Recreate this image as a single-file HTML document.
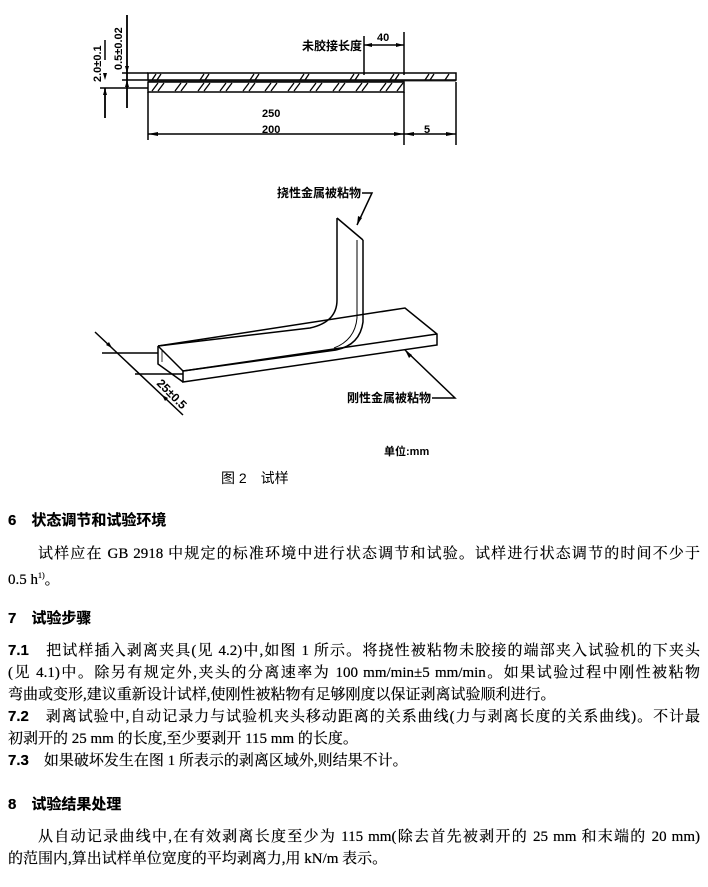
<!DOCTYPE html>
<html><head><meta charset="utf-8"><style>
html,body{margin:0;padding:0;background:#fff;}
body{width:708px;height:887px;position:relative;overflow:hidden;font-family:"Liberation Serif","Noto Serif CJK SC",serif;color:#000;}
.l{position:absolute;left:8px;font-size:15px;line-height:20px;white-space:nowrap;text-shadow:0 0 0.4px #000;}
.j{width:692px;text-align:justify;text-align-last:justify;white-space:normal;}
.h{font-family:"Liberation Sans","Noto Sans CJK SC",sans-serif;font-weight:bold;font-size:15px;}
svg{position:absolute;left:0;top:0;}
svg text{font-family:"Liberation Sans","Noto Sans CJK SC",sans-serif;fill:#000;}
</style></head><body>
<svg width="708" height="500" viewBox="0 0 708 500">
<g stroke="#000" stroke-width="1.5" fill="none">
<rect x="148" y="73" width="308" height="7"/>
<rect x="148" y="82" width="256" height="10"/>
<line x1="148" y1="81" x2="456" y2="81" stroke-width="0.8"/>
<g stroke-width="1.3">
<path d="M152 80l4-6M157 80l4-6M200 80l4-6M205 80l4-6M250 80l4-6M255 80l4-6M300 80l4-6M305 80l4-6M350 80l4-6M355 80l4-6M390 80l4-6M395 80l4-6M425 80l4-6M430 80l4-6M445 80l4-6"/>
<path d="M152 91l6-8M158 91l6-8M175 91l6-8M181 91l6-8M198 91l6-8M204 91l6-8M220 91l6-8M226 91l6-8M243 91l6-8M249 91l6-8M265 91l6-8M271 91l6-8M288 91l6-8M294 91l6-8M310 91l6-8M316 91l6-8M333 91l6-8M339 91l6-8M356 91l6-8M362 91l6-8M380 91l6-8M386 91l6-8M397 91l6-8"/>
</g>
<line x1="127" y1="15" x2="127" y2="108" stroke-width="1.8"/>
<line x1="105" y1="88" x2="105" y2="118" stroke-width="1.8"/>
<line x1="105" y1="40" x2="105" y2="60"/>
<line x1="122" y1="73" x2="148" y2="73"/>
<line x1="122" y1="80" x2="148" y2="80"/>
<line x1="100" y1="88" x2="148" y2="88"/>
<line x1="364" y1="36" x2="364" y2="75"/>
<line x1="404" y1="32" x2="404" y2="75"/>
<line x1="364" y1="45" x2="404" y2="45"/>
<line x1="148" y1="92" x2="148" y2="140"/>
<line x1="404" y1="92" x2="404" y2="145"/>
<line x1="456" y1="82" x2="456" y2="145"/>
<line x1="148" y1="134" x2="456" y2="134"/>
<path d="M337 218 L363 240"/>
<path d="M337 218 L337 300 Q337 322 310 328 L158 346"/>
<path d="M363 240 L363 322 Q360 345 336 350"/>
<path d="M357 240 L357 318 Q355 340 334 348" stroke-width="1"/>
<path d="M336 350 L183 371"/>
<path d="M158 346 L405 308 L437 334 L437 345 L183 382 L183 371 L437 334"/>
<path d="M158 346 L158 364 L183 382"/>
<path d="M158 346 L183 371"/>
<path d="M162 350 L162 362" stroke-width="0.8"/>
<line x1="102" y1="353" x2="158" y2="353"/>
<line x1="135" y1="374" x2="183" y2="374"/>
<line x1="95" y1="332" x2="183" y2="415"/>
<path d="M362 193 L372 193 L357 225"/>
<path d="M432 398 L455 398 L405 350"/>
</g>
<g fill="#000">
<path d="M127 73 l-2 -7 l4 0z M127 80 l-2 7 l4 0z"/>
<path d="M105 80 l-2 -7 l4 0z M105 88 l-2 7 l4 0z"/>
<path d="M364 45 l8 -2 l0 4z M404 45 l-8 -2 l0 4z"/>
<path d="M148 134 l10 -2 l0 4z M404 134 l-10 -2 l0 4z M404 134 l10 -2 l0 4z M456 134 l-10 -2 l0 4z"/>
<path d="M357 225 l1 -9 l4 2z M405 350 l4 8 l3 -3z"/>
<path d="M112 348 l-6 -3 l3 -3z M162 395 l6 3 l-3 3z"/>
</g>
<text x="302" y="50" font-size="12" font-weight="bold">未胶接长度</text>
<text x="377" y="41" font-size="11" font-weight="bold">40</text>
<text x="262" y="117" font-size="11" font-weight="bold">250</text>
<text x="262" y="133" font-size="11" font-weight="bold">200</text>
<text x="424" y="133" font-size="11" font-weight="bold">5</text>
<text transform="translate(101,82) rotate(-90)" font-size="11" font-family="Liberation Mono" font-weight="bold">2.0±0.1</text>
<text transform="translate(122,70) rotate(-90)" font-size="11" font-family="Liberation Mono" font-weight="bold">0.5±0.02</text>
<text x="277" y="197" font-size="12" font-weight="bold">挠性金属被粘物</text>
<text x="347" y="402" font-size="12" font-weight="bold">刚性金属被粘物</text>
<text transform="translate(156,384) rotate(45)" font-size="12" font-weight="bold">25±0.5</text>
<text x="384" y="455" font-size="11" font-weight="bold">单位:mm</text>
<text x="221" y="483" font-size="14" font-family="Liberation Serif,Noto Serif CJK SC,serif">图 2　试样</text>
</svg>
<div class="l h" style="top:511px">6　状态调节和试验环境</div>
<div class="l j" style="top:544px;left:38px;width:662px">试样应在 GB 2918 中规定的标准环境中进行状态调节和试验。试样进行状态调节的时间不少于</div>
<div class="l" style="top:566px">0.5 h<sup style="font-size:8px">1)</sup>。</div>
<div class="l h" style="top:609px">7　试验步骤</div>
<div class="l j" style="top:641px"><span class="h">7.1</span>　把试样插入剥离夹具(见 4.2)中,如图 1 所示。将挠性被粘物未胶接的端部夹入试验机的下夹头</div>
<div class="l j" style="top:663px">(见 4.1)中。除另有规定外,夹头的分离速率为 100 mm/min±5 mm/min。如果试验过程中刚性被粘物</div>
<div class="l" style="top:685px">弯曲或变形,建议重新设计试样,使刚性被粘物有足够刚度以保证剥离试验顺利进行。</div>
<div class="l j" style="top:707px"><span class="h">7.2</span>　剥离试验中,自动记录力与试验机夹头移动距离的关系曲线(力与剥离长度的关系曲线)。不计最</div>
<div class="l" style="top:729px">初剥开的 25 mm 的长度,至少要剥开 115 mm 的长度。</div>
<div class="l" style="top:751px"><span class="h">7.3</span>　如果破坏发生在图 1 所表示的剥离区域外,则结果不计。</div>
<div class="l h" style="top:795px">8　试验结果处理</div>
<div class="l j" style="top:827px;left:38px;width:662px">从自动记录曲线中,在有效剥离长度至少为 115 mm(除去首先被剥开的 25 mm 和末端的 20 mm)</div>
<div class="l" style="top:849px">的范围内,算出试样单位宽度的平均剥离力,用 kN/m 表示。</div>
</body></html>
